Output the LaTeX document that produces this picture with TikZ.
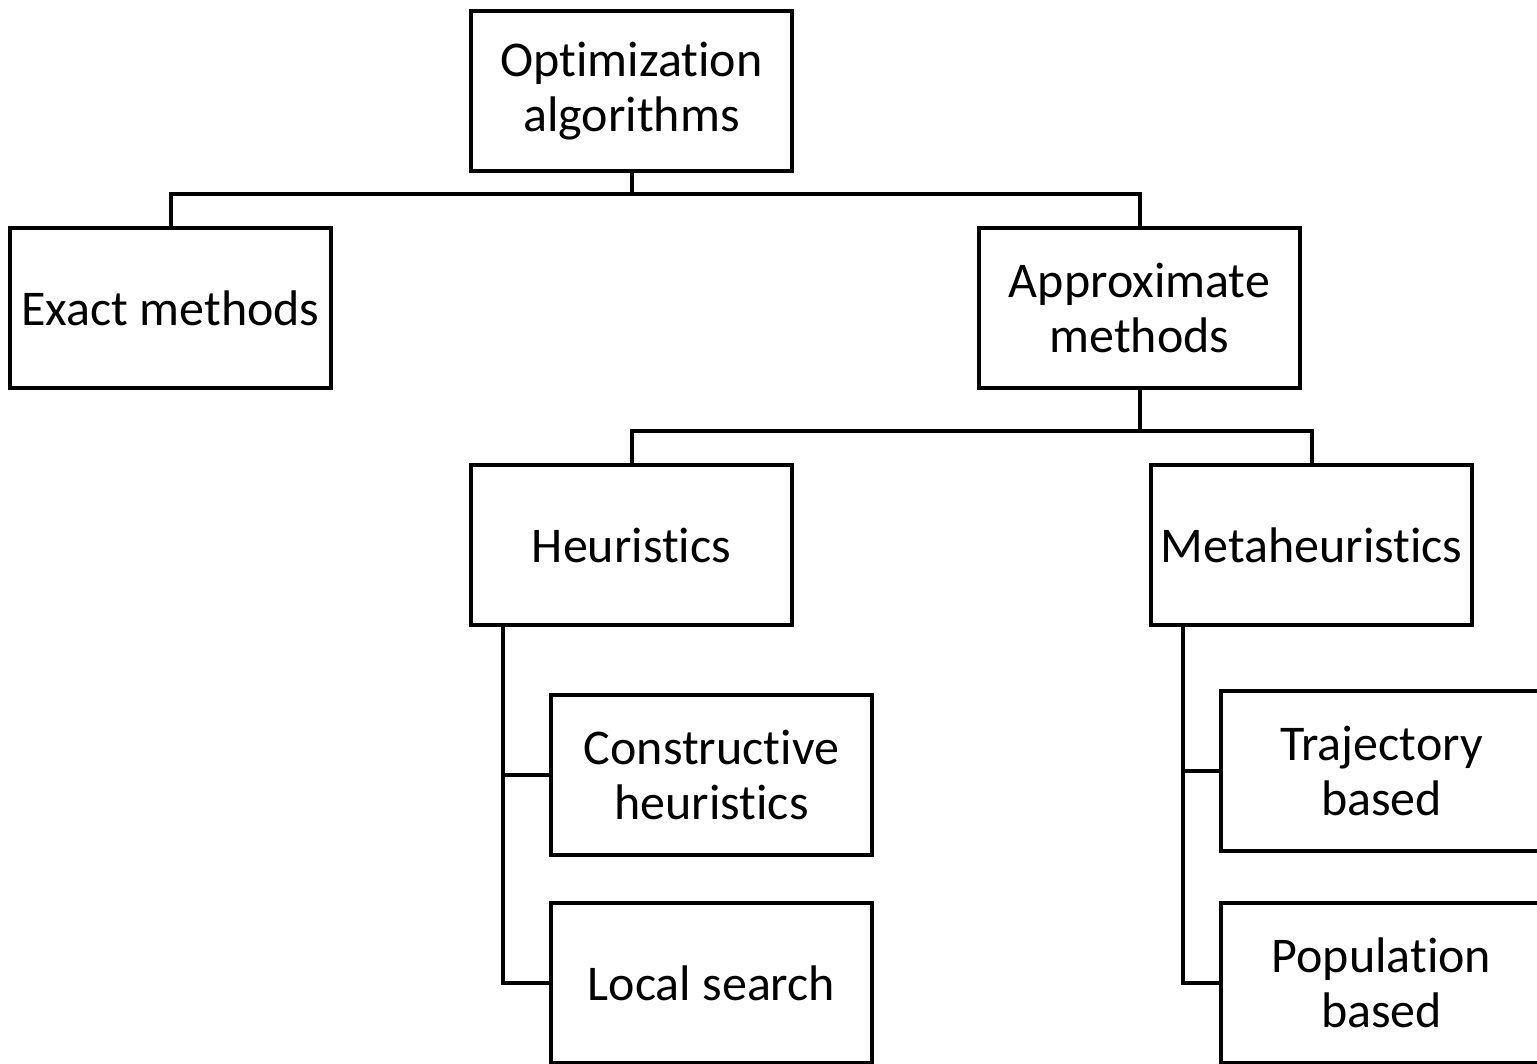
\documentclass[tikz,border=0pt]{standalone}
\usepackage{fontspec}
\setmainfont[Ligatures={NoCommon}]{Carlito}
\begin{document}
\begin{tikzpicture}[x=1pt,y=-1pt,
  box/.style={draw=black,line width=4pt,minimum width=321pt,minimum height=160pt,
    inner sep=0pt,align=center,font=\fontsize{50}{55}\selectfont},
  conn/.style={draw=black,line width=4pt}]
\useasboundingbox (0,0) rectangle (1537,1064);
\clip (0,0) rectangle (1537,1064);
\node[box] (opt) at (631.5,91.5) {Optimization\\algorithms};
\node[box] (exact) at (170.5,308) {Exact methods};
\node[box] (approx) at (1139.5,308) {Approximate\\methods};
\node[box] (heur) at (631.5,545) {Heuristics};
\node[box] (meta) at (1311.5,545) {Metaheuristics};
\node[box] (constr) at (711.5,775) {Constructive\\heuristics};
\node[box] (local) at (711.5,983) {Local search};
\node[box] (traj) at (1381.5,771) {Trajectory\\based};
\node[box] (pop) at (1381.5,983) {Population\\based};
\coordinate (j1) at (631.5,194);
\coordinate (j2) at (1139.5,431);
\coordinate (ht) at (503,625);
\coordinate (mt) at (1183,625);
\draw[conn] (opt.south) -- (j1);
\draw[conn] (exact.north) |- (j1) -| (approx.north);
\draw[conn] (approx.south) -- (j2);
\draw[conn] (heur.north) |- (j2) -| (meta.north);
\draw[conn] (ht) |- (local.west);
\draw[conn] (ht |- constr.west) -- (constr.west);
\draw[conn] (mt) |- (pop.west);
\draw[conn] (mt |- traj.west) -- (traj.west);
\end{tikzpicture}
\end{document}
